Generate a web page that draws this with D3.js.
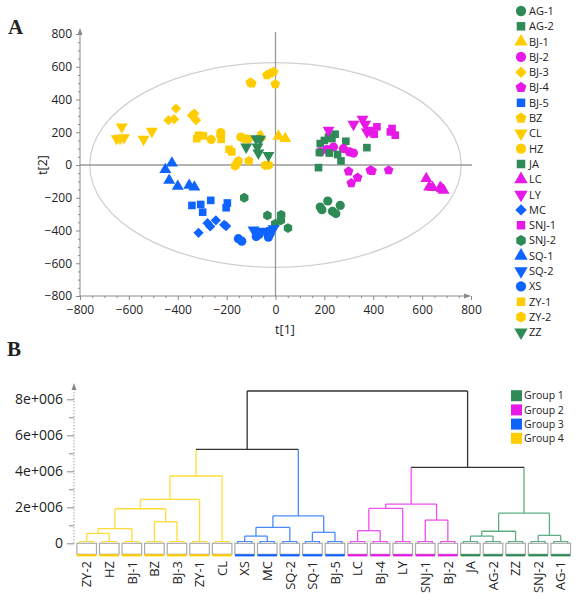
<!DOCTYPE html>
<html><head><meta charset="utf-8">
<script src="https://cdn.jsdelivr.net/npm/d3@7"></script>
<style>body{margin:0;background:#fff} svg{display:block}</style>
</head><body><svg id="c" width="578" height="600"></svg>
<script>
// ---------- PCA score plot data ----------
const sampleNames = ["AG-1","AG-2","BJ-1","BJ-2","BJ-3","BJ-4","BJ-5","BZ","CL","HZ","JA","LC","LY","MC","SNJ-1","SNJ-2","SQ-1","SQ-2","XS","ZY-1","ZY-2","ZZ"];
const sampleGroup  = [1,1,4,2,4,2,3,4,4,4,1,2,2,3,2,1,3,3,3,4,4,1];
const sampleShape  = ["circle","square","triUp","circle","diamond","pentagon","square","pentagon","triDown","circle","square","triUp","triDown","diamond","square","hexagon","triUp","triDown","circle","square","hexagon","triDown"];

const AG1  = [[183,-257],[190,-273],[214,-220],[233,-283],[247,-297],[265,-247]];
const AG2  = [[217,171],[231,161],[244,188],[183,131],[288,145],[200,150]];
const BJ1  = [[-68,168],[-60,176],[12,176],[40,161]];
const BJ2  = [[183,80],[210,94],[237,110],[278,100],[303,80],[319,73]];
const BJ3  = [[-407,345],[-438,274],[-415,280],[-342,303],[-332,314],[-325,274]];
const BJ4  = [[299,-39],[336,-77],[310,-110],[388,-32],[395,-36],[463,-32]];
const BJ5  = [[-342,-247],[-306,-241],[-298,-288],[-265,-216],[-197,-232],[-202,-261]];
const BZ   = [[-103,504],[-97,498],[-35,549],[-22,559],[-8,569],[-1,494]];
const CL   = [[-629,233],[-650,161],[-620,167],[-636,163],[-540,157],[-506,206]];
const HZ   = [[-263,155],[-224,198],[-224,178],[-142,171],[-128,160],[-112,158]];
const JA   = [[180,76],[220,73],[254,64],[268,25],[374,106],[176,-16]];
const LC   = [[617,-83],[629,-135],[643,-138],[674,-138],[688,-155],[680,-145]];
const LY   = [[217,212],[319,249],[356,280],[367,249],[374,202],[385,212]];
const MC   = [[-315,-414],[-278,-355],[-267,-375],[-244,-338],[-210,-365],[-202,-373]];
const SNJ1 = [[391,208],[415,233],[404,188],[477,223],[470,202],[490,182]];
const SNJ2 = [[-128,-200],[-33,-308],[23,-304],[22,-338],[-1,-359],[51,-385]];
const SQ1  = [[-451,-28],[-424,12],[-435,-94],[-400,-130],[-353,-124],[-332,-135]];
const SQ2  = [[-90,-396],[-56,-406],[-42,-404],[-15,-400],[-8,-389],[-29,-418]];
const XS   = [[-152,-450],[-138,-465],[-79,-436],[-70,-426],[-29,-441],[-22,-420]];
const ZY1  = [[-315,182],[-295,178],[-322,161],[-222,157],[-190,96],[-179,80]];
const ZY2  = [[-165,-6],[-152,25],[-109,25],[-42,-2],[-28,0],[-158,10]];
const ZZ   = [[-79,161],[-63,157],[-120,110],[-74,110],[-70,73],[-29,59]];
const samplePoints = [AG1,AG2,BJ1,BJ2,BJ3,BJ4,BJ5,BZ,CL,HZ,JA,LC,LY,MC,SNJ1,SNJ2,SQ1,SQ2,XS,ZY1,ZY2,ZZ];

const t1Ticks = [-800,-600,-400,-200,0,200,400,600,800];
const t2Ticks = [-800,-600,-400,-200,0,200,400,600,800];
const ellipseRadii = [760,625];

// ---------- Dendrogram data ----------
const leafNames  = ["ZY-2","HZ","BJ-1","BZ","BJ-3","ZY-1","CL","XS","MC","SQ-2","SQ-1","BJ-5","LC","BJ-4","LY","SNJ-1","BJ-2","JA","AG-2","ZZ","SNJ-2","AG-1"];
const leafGroups = [4,4,4,4,4,4,4,3,3,3,3,3,2,2,2,2,2,1,1,1,1,1];
// [childA, childB, height (x1e6)] ; new cluster ids start at 22
const linkage = [
  [0,1,0.55],[22,2,0.81],[3,4,1.2],[23,24,1.92],[25,5,2.44],[26,6,3.74],
  [7,8,0.40],[28,9,0.89],[10,11,0.61],[29,30,1.52],[27,31,5.22],
  [12,13,0.70],[33,14,1.94],[15,16,1.29],[34,35,2.18],
  [17,18,0.40],[37,19,0.67],[20,21,0.44],[38,39,1.68],[36,40,4.22],
  [32,41,8.46]
];
const leafHeight = 0.1;
const heightTicks = [0,2,4,6,8];
const heightTickLabels = ["0","2e+006","4e+006","6e+006","8e+006"];
const groupNames  = ["Group 1","Group 2","Group 3","Group 4"];
const groupColors = ["#2E8B57","#E619E6","#0F64FF","#FFCC00"];
const linkColors  = ["#5DAE80","#EE50EE","#4A8CFF","#FFDC3A"];

// ---------- drawing ----------
const svg = d3.select("#c");
const axisGray = "#8a8a8a";
const FONT = "'Open Sans','Noto Sans',Arial,sans-serif";

function poly(n, start){
  return {draw(ctx,size){
    const r = Math.sqrt(size/(0.5*n*Math.sin(2*Math.PI/n)));
    for(let i=0;i<n;i++){const a=start+i*2*Math.PI/n;const px=r*Math.sin(a),py=-r*Math.cos(a);i?ctx.lineTo(px,py):ctx.moveTo(px,py);}
    ctx.closePath();
  }};
}
const shapeType = {circle:d3.symbolCircle, square:d3.symbolSquare, triUp:poly(3,0), triDown:poly(3,Math.PI),
  diamond:poly(4,0), pentagon:poly(5,0), hexagon:poly(6,0)};
const shapeSize = {circle:66, square:58, triUp:62, triDown:62, diamond:52, pentagon:62, hexagon:62};

// ===== Panel A =====
const x = d3.scaleLinear([-800,800],[80,471]);
const y = d3.scaleLinear([-800,800],[296,34]);

svg.append("ellipse").attr("cx",x(0)).attr("cy",y(0))
  .attr("rx",x(ellipseRadii[0])-x(0)).attr("ry",y(0)-y(ellipseRadii[1]))
  .attr("fill","none").attr("stroke","#cfcfcf").attr("stroke-width",1.2);

svg.append("line").attr("x1",x(0)).attr("x2",x(0)).attr("y1",32).attr("y2",y(-800))
  .attr("stroke","#999").attr("stroke-width",1.3);
svg.append("line").attr("x1",x(-800)).attr("x2",472).attr("y1",y(0)).attr("y2",y(0))
  .attr("stroke","#999").attr("stroke-width",1.3);

const minorT = d3.range(-800,801,50).filter(v=>v%200!==0);
// left axis
const gy = svg.append("g").attr("transform",`translate(${x(-800)},0)`);
gy.call(d3.axisLeft(y).tickValues(t2Ticks).tickSize(4).tickPadding(4).tickFormat(d3.format("d")));
gy.append("g").call(d3.axisLeft(y).tickValues(minorT).tickSize(2).tickFormat(""));
gy.selectAll(".domain").remove();
gy.append("line").attr("y1",y(-800)).attr("y2",30).attr("stroke",axisGray);
gy.append("path").attr("d","M0,28 L-2.5,35 L2.5,35 Z").attr("fill",axisGray);
gy.selectAll("line").attr("stroke",axisGray);
gy.selectAll("text").attr("font-size",12);
// bottom axis
const gx = svg.append("g").attr("transform",`translate(0,${y(-800)})`);
gx.call(d3.axisBottom(x).tickValues(t1Ticks).tickSize(4).tickPadding(5).tickFormat(d3.format("d")));
gx.append("g").call(d3.axisBottom(x).tickValues(minorT).tickSize(2).tickFormat(""));
gx.selectAll(".domain").remove();
gx.append("line").attr("x1",x(-800)).attr("x2",470).attr("stroke",axisGray);
gx.append("path").attr("d","M471,0 L464,-2.5 L464,2.5 Z").attr("fill",axisGray);
gx.selectAll("line").attr("stroke",axisGray);
gx.selectAll("text").attr("font-size",12);

svg.append("text").attr("transform",`translate(47,165) rotate(-90)`).attr("text-anchor","middle")
  .attr("font-size",12.5).text("t[2]");
svg.append("text").attr("x",285).attr("y",334).attr("text-anchor","middle")
  .attr("font-size",12.5).text("t[1]");

// points
const pts = [];
samplePoints.forEach((arr,i)=>arr.forEach(p=>pts.push({s:i,t1:p[0],t2:p[1]})));
svg.append("g").selectAll("path").data(pts).join("path")
  .attr("transform",d=>`translate(${x(d.t1)},${y(d.t2)})`)
  .attr("d",d=>d3.symbol(shapeType[sampleShape[d.s]], shapeSize[sampleShape[d.s]])())
  .attr("fill",d=>groupColors[sampleGroup[d.s]-1]);

// legend A
const legA = svg.append("g").selectAll("g").data(sampleNames).join("g")
  .attr("transform",(d,i)=>`translate(521,${11+i*15.3})`);
legA.append("path").attr("d",(d,i)=>d3.symbol(shapeType[sampleShape[i]], shapeSize[sampleShape[i]]*1.25)())
  .attr("fill",(d,i)=>groupColors[sampleGroup[i]-1]);
legA.append("text").attr("x",8).attr("dy","0.36em").attr("font-size",11).text(d=>d);

// ===== Panel B =====
const xD = d3.scaleBand(leafNames,[75.4,572]);
const yD = d3.scaleLinear([0,8],[543.3,399.3]);
const cx = n => xD(n)+xD.bandwidth()/2;

// axis
const gd = svg.append("g").attr("transform","translate(74,0)");
gd.call(d3.axisLeft(yD).tickValues(heightTicks).tickSize(7).tickPadding(4).tickFormat((d,i)=>heightTickLabels[i]));
gd.append("g").call(d3.axisLeft(yD).tickValues(d3.range(1,8,2)).tickSize(5).tickFormat(""));
gd.selectAll(".domain").remove();
gd.selectAll("line").attr("stroke",axisGray);
gd.append("line").attr("y1",yD(0)).attr("y2",386).attr("stroke","#777").attr("stroke-dasharray","1,2");
gd.append("path").attr("d","M0,383 L-2.5,390 L2.5,390 Z").attr("fill",axisGray);
gd.selectAll("text").attr("font-size",14);

// nodes
const nodes = leafNames.map((n,i)=>({x:cx(n),h:leafHeight,g:leafGroups[i]}));
linkage.forEach(([a,b,h])=>{
  const A=nodes[a],B=nodes[b];
  nodes.push({x:(A.x+B.x)/2,h:h,g:A.g===B.g?A.g:0,a:A,b:B});
});
const col = g => g ? linkColors[g-1] : "#333";
const links = svg.append("g").attr("fill","none").attr("stroke-width",1.3);
nodes.slice(leafNames.length).forEach(n=>{
  [n.a,n.b].forEach(c=>{
    links.append("line").attr("x1",c.x).attr("x2",c.x).attr("y1",yD(c.h)).attr("y2",yD(n.h)).attr("stroke",col(c.g));
  });
  links.append("line").attr("x1",n.a.x).attr("x2",n.b.x).attr("y1",yD(n.h)).attr("y2",yD(n.h)).attr("stroke",col(n.g));
});

// leaf boxes
const bw = xD.bandwidth();
const leaves = svg.append("g").selectAll("g").data(leafNames).join("g")
  .attr("transform",d=>`translate(${cx(d)},0)`);
leaves.append("rect").attr("x",-bw/2+1.5).attr("width",bw-3).attr("y",yD(0)).attr("height",11)
  .attr("fill","none").attr("stroke","#aaa").attr("stroke-width",1.2);
leaves.append("line").attr("x1",-bw/2+1.5).attr("x2",bw/2-1.5).attr("y1",yD(0)+12).attr("y2",yD(0)+12)
  .attr("stroke",(d,i)=>groupColors[leafGroups[i]-1]).attr("stroke-width",2.2);
leaves.append("path").attr("fill","none").attr("stroke-width",1.2)
  .attr("d",`M-7,${yD(0)} V${yD(leafHeight)} H7 V${yD(0)}`)
  .attr("stroke",(d,i)=>linkColors[leafGroups[i]-1]);
leaves.append("text").attr("transform","translate(0,561) rotate(-90)").attr("text-anchor","end")
  .attr("dy","0.36em").attr("font-size",13).text(d=>d);

// legend B
const legB = svg.append("g").selectAll("g").data(groupNames).join("g")
  .attr("transform",(d,i)=>`translate(511,${395.7+i*14.2})`);
legB.append("rect").attr("x",0).attr("y",-5.5).attr("width",11).attr("height",11).attr("fill",(d,i)=>groupColors[i]);
legB.append("text").attr("x",13).attr("dy","0.36em").attr("font-size",10.5).text(d=>d);

// fonts for all labels
svg.selectAll("text").attr("font-family",FONT).attr("fill","#222");

// panel letters
svg.append("text").attr("x",8).attr("y",34).text("A")
  .attr("font-family","'Liberation Serif','DejaVu Serif',serif").attr("font-weight","bold").attr("font-size",21).attr("fill","#222");
svg.append("text").attr("x",7).attr("y",356).text("B")
  .attr("font-family","'Liberation Serif','DejaVu Serif',serif").attr("font-weight","bold").attr("font-size",21).attr("fill","#222");
</script></body></html>
